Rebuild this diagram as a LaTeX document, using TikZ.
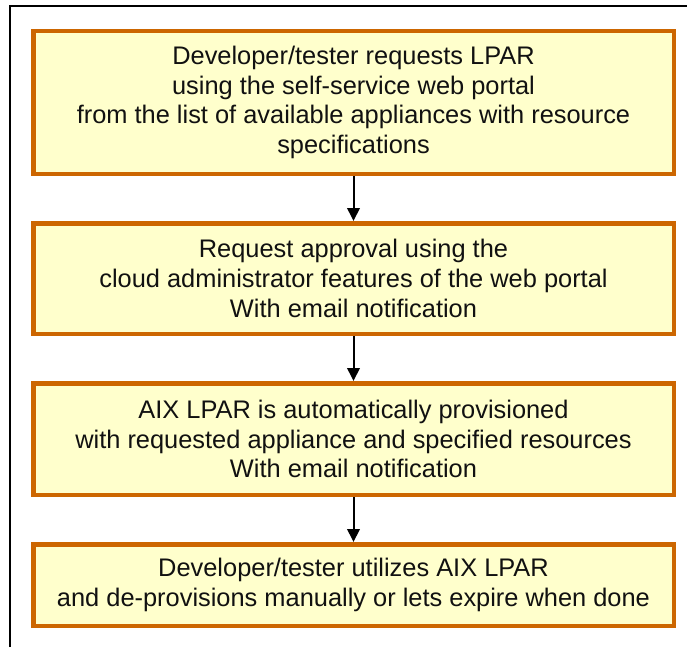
\documentclass[tikz,border=0pt]{standalone}
\usepackage{fontspec}
\setmainfont{Liberation Sans}
\usetikzlibrary{arrows.meta}
\definecolor{boxedge}{HTML}{CC6600}
\definecolor{boxfill}{HTML}{FFFFCC}
\definecolor{inkc}{HTML}{111111}
\begin{document}
\begin{tikzpicture}[x=1pt,y=-1pt,
  stepbox/.style={draw=boxedge, fill=boxfill, line width=4.5pt,
    minimum width=640.5pt, align=center, inner sep=0pt, text=inkc,
    font=\fontsize{25.4}{29.6}\selectfont},
  flow/.style={draw=black, line width=2pt,
    -{Triangle[width=12.5pt,length=13pt]}}]
\useasboundingbox (0,0) rectangle (687,647);
% outer frame (top and left edges)
\draw[line width=1.5pt] (10,647) -- (10,6) -- (687,6);

\node[stepbox, minimum height=142.5pt] (b1) at (353.5,102.5)
  {Developer/tester requests LPAR\\using the self-service web portal\\from the list of available appliances with resource\\specifications};
\node[stepbox, minimum height=110.5pt] (b2) at (353.5,278.5)
  {Request approval using the\\cloud administrator features of the web portal\\With email notification};
\node[stepbox, minimum height=111.5pt] (b3) at (353.5,439)
  {AIX LPAR is automatically provisioned\\with requested appliance and specified resources\\With email notification};
\node[stepbox, minimum height=81.5pt] (b4) at (353.5,585)
  {Developer/tester utilizes AIX LPAR\\and de-provisions manually or lets expire when done};

\draw[flow] (b1) -- (b2);
\draw[flow] (b2) -- (b3);
\draw[flow] (b3) -- (b4);
\end{tikzpicture}
\end{document}
